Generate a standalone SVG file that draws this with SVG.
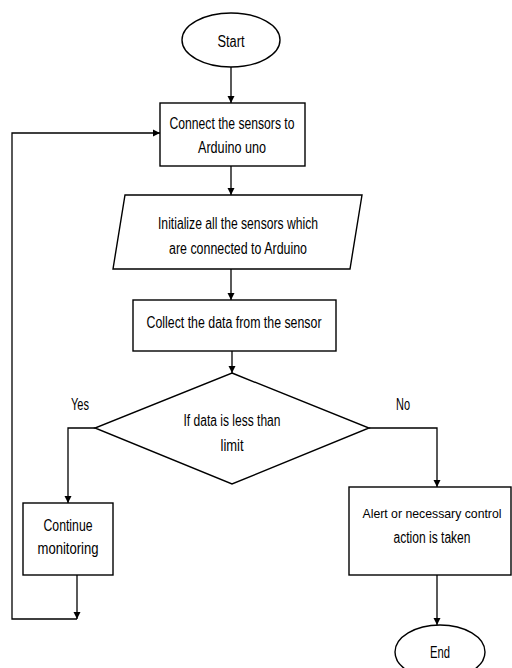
<svg xmlns="http://www.w3.org/2000/svg" width="512" height="668" viewBox="0 0 512 668">
<style>
.s{fill:#fff;stroke:#000;stroke-width:1.4}
.c{fill:none;stroke:#000;stroke-width:1.3}
text{font-family:"Liberation Sans",Arial,sans-serif;font-size:16px;fill:#000;text-anchor:middle;dominant-baseline:central}
.sm{font-size:13px}
</style>
<defs>
<marker id="ah" markerWidth="8" markerHeight="8" refX="7" refY="4" orient="auto" markerUnits="userSpaceOnUse">
<path d="M0,0.5 L7,4 L0,7.5 Z" fill="#000"/>
</marker>
</defs>
<rect width="512" height="668" fill="#fff"/>
<g id="connectors">
<line class="c" x1="231" y1="67" x2="231" y2="103" marker-end="url(#ah)"/>
<line class="c" x1="231" y1="166" x2="231" y2="195" marker-end="url(#ah)"/>
<line class="c" x1="231" y1="269" x2="231" y2="300" marker-end="url(#ah)"/>
<line class="c" x1="232" y1="351" x2="232" y2="373" marker-end="url(#ah)"/>
<polyline class="c" points="95,428 68,428 68,503" marker-end="url(#ah)"/>
<polyline class="c" points="369,428 437,428 437,487" marker-end="url(#ah)"/>
<line class="c" x1="77" y1="575" x2="77" y2="619" marker-end="url(#ah)"/>
<polyline class="c" points="77,619 12,619 12,133 160,133" marker-end="url(#ah)"/>
<line class="c" x1="437" y1="575" x2="437" y2="625" marker-end="url(#ah)"/>
<text x="80" y="404" textLength="18" lengthAdjust="spacingAndGlyphs">Yes</text>
<text x="403" y="404" textLength="14" lengthAdjust="spacingAndGlyphs">No</text>
</g>
<g id="start">
<ellipse class="s" cx="231" cy="40" rx="49" ry="27"/>
<text x="231" y="41" textLength="27" lengthAdjust="spacingAndGlyphs">Start</text>
</g>
<g id="connect">
<rect class="s" x="160" y="103" width="145" height="63"/>
<text x="232" y="123" textLength="125" lengthAdjust="spacingAndGlyphs">Connect the sensors to</text>
<text x="232" y="147" textLength="68" lengthAdjust="spacingAndGlyphs">Arduino uno</text>
</g>
<g id="init">
<polygon class="s" points="125,195 362,195 350,269 113,269"/>
<text x="238" y="223" textLength="160" lengthAdjust="spacingAndGlyphs">Initialize all the sensors which</text>
<text x="238" y="248" textLength="138" lengthAdjust="spacingAndGlyphs">are connected to Arduino</text>
</g>
<g id="collect">
<rect class="s" x="133" y="300" width="203" height="51"/>
<text x="234" y="322" textLength="175" lengthAdjust="spacingAndGlyphs">Collect the data from the sensor</text>
</g>
<g id="decision">
<polygon class="s" points="232,373 369,428 232,484 95,428"/>
<text x="232" y="420" textLength="97" lengthAdjust="spacingAndGlyphs">If data is less than</text>
<text x="232" y="445" textLength="23" lengthAdjust="spacingAndGlyphs">limit</text>
</g>
<g id="continue">
<rect class="s" x="23" y="503" width="90" height="72"/>
<text x="68" y="525" textLength="49" lengthAdjust="spacingAndGlyphs">Continue</text>
<text x="68" y="548" textLength="61" lengthAdjust="spacingAndGlyphs">monitoring</text>
</g>
<g id="alert">
<rect class="s" x="349" y="487" width="162" height="88"/>
<text class="sm" x="432" y="513" textLength="139" lengthAdjust="spacingAndGlyphs">Alert or necessary control</text>
<text x="432" y="537" textLength="77" lengthAdjust="spacingAndGlyphs">action is taken</text>
</g>
<g id="end">
<ellipse class="s" cx="440" cy="652" rx="45" ry="27"/>
<text x="440" y="652" textLength="20" lengthAdjust="spacingAndGlyphs">End</text>
</g>
</svg>
